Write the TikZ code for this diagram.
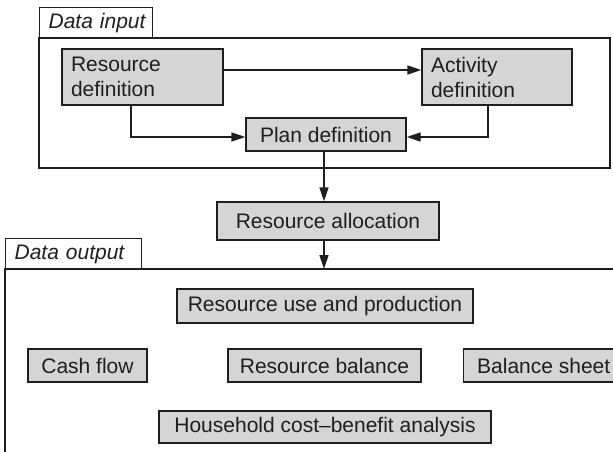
\documentclass[tikz,border=0pt]{standalone}
\usepackage{fontspec}
\setmainfont{Liberation Sans}
\usetikzlibrary{arrows.meta}
\definecolor{boxfill}{RGB}{213,213,213}
\definecolor{ink}{RGB}{30,30,30}
\begin{document}
\begin{tikzpicture}[x=1pt,y=-1pt,
  font=\fontsize{21}{25}\selectfont,
  box/.style={draw=ink, fill=boxfill, line width=1.4pt, text=ink, inner sep=0pt, minimum height=34pt},
  tab/.style={draw=ink, line width=1.2pt, text=ink, font=\fontsize{21}{25}\selectfont\itshape,
              inner sep=0pt, minimum height=31pt, anchor=north west, align=left},
  frame/.style={draw=ink, line width=1.2pt},
  arr/.style={draw=ink, line width=1.4pt, -{Triangle[length=14pt,width=9pt]}}
]
\useasboundingbox (0,0) rectangle (613,452);
\clip (0,0) rectangle (613,452);

% frames
\draw[frame] (39,38) rectangle (610,168);
\node[tab, text width=113pt] (intab) at (39,7) {\hspace*{9pt}Data input};
\draw[frame] (5,460) -- (5,269) -- (620,269);
\node[tab, text width=136pt] (outtab) at (5,238) {\hspace*{9pt}Data output};
\coordinate (outtop) at (324,269);

% boxes
\node[box, minimum width=161pt, minimum height=56pt, text width=143pt, align=left] (res) at (142.5,77) {Resource\\definition};
\node[box, minimum width=150pt, minimum height=56pt, text width=132pt, align=left] (act) at (497,77) {Activity\\definition};
\node[box, minimum width=160pt, minimum height=33pt] (plan) at (326,134.5) {Plan definition};
\node[box, minimum width=222pt, minimum height=38pt] (alloc) at (328,221) {Resource allocation};
\node[box, minimum width=296pt, minimum height=34pt] (use) at (325,306) {Resource use and production};
\node[box, minimum width=119pt, minimum height=33pt] (cash) at (87.5,365.5) {Cash flow};
\node[box, minimum width=193pt, minimum height=33pt] (rbal) at (324.5,365.5) {Resource balance};
\node[box, minimum width=160pt, minimum height=33pt, anchor=west] (bsheet) at (463,365.5) {Balance sheet};
\node[box, minimum width=332pt, minimum height=32pt] (hh) at (325,427) {Household cost--benefit analysis};

% connectors
\draw[arr] ([yshift=7pt]res.east) -- ([yshift=7pt]act.west);
\draw[arr] ([xshift=-11.5pt]res.south) |- ([yshift=-2.5pt]plan.west);
\draw[arr] ([xshift=-9pt]act.south) |- ([yshift=-2.5pt]plan.east);
\draw[arr] ([xshift=-2pt]plan.south) -- ([xshift=-4pt]alloc.north);
\draw[arr] ([xshift=-4pt]alloc.south) -- (outtop);
\end{tikzpicture}
\end{document}
